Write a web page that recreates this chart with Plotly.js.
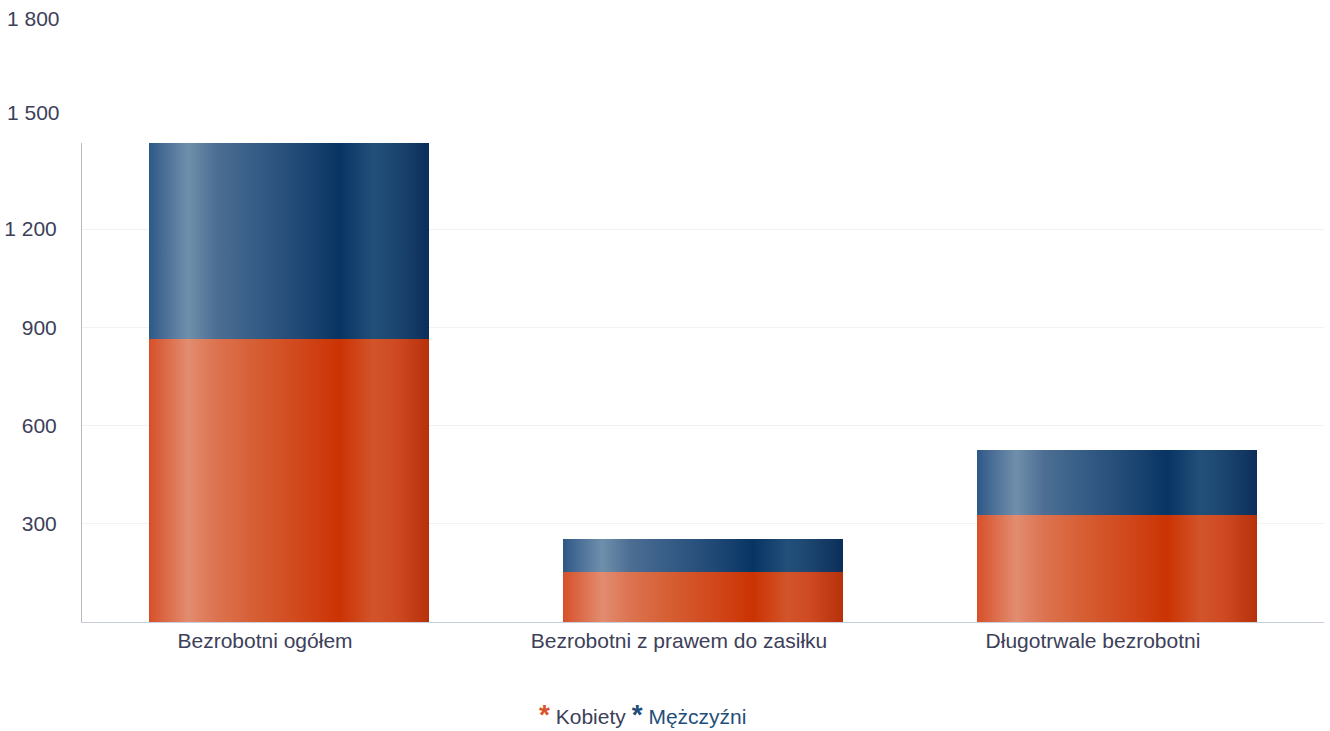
<!DOCTYPE html>
<html>
<head>
<meta charset="utf-8">
<script src="https://cdn.plot.ly/plotly-3.0.1.min.js"></script>
<style>
  html, body { margin: 0; padding: 0; background: #ffffff; }
  #chart { width: 1330px; height: 731px; }
</style>
</head>
<body>
<div id="chart"></div>
<script>
// ---- data ----
const categories = ["Bezrobotni ogółem", "Bezrobotni z prawem do zasiłku", "Długotrwale bezrobotni"];
const kobiety = [864, 153, 327];
const mezczyzni = [599, 100, 198];
const seriesNames = ["Kobiety", "Mężczyźni"];
const tickValues = [300, 600, 900, 1200, 1500, 1800];
const tickLabels = ["300", "600", "900", "1 200", "1 500", "1 800"];
const axisMax = 1463;

// ---- style ----
const orange = "#d9532b";
const blue = "#1f4e7a";
const textColor = "#3d4059";
const font = "Liberation Sans, Arial, sans-serif";
const fs = 21;

const traces = [
  { type: "bar", name: seriesNames[0], x: categories, y: kobiety,
    marker: { color: orange, line: { width: 0 } }, hoverinfo: "y+name" },
  { type: "bar", name: seriesNames[1], x: categories, y: mezczyzni,
    marker: { color: blue, line: { width: 0 } }, hoverinfo: "y+name" }
];

// ticks beyond the plotted range are drawn as labels above the plot
const inRange = tickValues.map(v => v <= axisMax);
const H = 731, mt = 143, mb = 109;
const plotH = H - mt - mb;
const extraAnn = [];
tickValues.forEach((v, i) => {
  if (!inRange[i]) {
    const idx = i - inRange.filter(Boolean).length; // 0 for 1500, 1 for 1800
    const yPix = [112, 18][idx];
    const yPaper = (H - mb - yPix) / plotH;
    extraAnn.push({
      xref: "paper", yref: "paper", x: 0, y: yPaper, xshift: -20,
      xanchor: "right", yanchor: "middle", showarrow: false,
      text: tickLabels[i], font: { family: font, size: fs, color: textColor }
    });
  }
});

const legendText =
  `<span style="color:${orange};font-size:28px;font-weight:bold">*</span> <span style="color:${textColor}">${seriesNames[0]}</span> ` +
  `<span style="color:${blue};font-size:28px;font-weight:bold">*</span> <span style="color:${blue}">${seriesNames[1]}</span>`;

const layout = {
  width: 1330, height: 731,
  margin: { l: 82, r: 6, t: mt, b: mb, pad: 0 },
  paper_bgcolor: "#ffffff", plot_bgcolor: "#ffffff",
  barmode: "stack", bargap: 0.324,
  showlegend: false,
  font: { family: font, size: fs, color: textColor },
  xaxis: {
    type: "category", showgrid: false, showline: true, linecolor: "#c8cfdb", linewidth: 1,
    ticks: "", ticklabelshift: -24, ticklabelstandoff: 0,
    tickfont: { family: font, size: fs, color: textColor }, fixedrange: true
  },
  yaxis: {
    range: [0, axisMax], tickvals: tickValues.filter((v, i) => inRange[i]),
    ticktext: tickLabels.filter((v, i) => inRange[i]),
    showgrid: true, gridcolor: "#f1f2f4", gridwidth: 1,
    showline: true, linecolor: "#bcbcbc", linewidth: 1,
    zeroline: false, ticks: "", ticklabelstandoff: 20,
    tickfont: { family: font, size: fs, color: textColor }, fixedrange: true
  },
  annotations: extraAnn.concat([{
    xref: "paper", yref: "paper", x: 0.5, y: 0, xshift: -61, yshift: -92, xanchor: "center", yanchor: "middle",
    showarrow: false, text: legendText, font: { family: font, size: fs, color: textColor }
  }])
};

Plotly.newPlot("chart", traces, layout, { displayModeBar: false, staticPlot: true }).then(() => {
  const svg = document.querySelector("#chart .main-svg");
  const NS = "http://www.w3.org/2000/svg";
  let defs = svg.querySelector("defs");
  if (!defs) { defs = document.createElementNS(NS, "defs"); svg.insertBefore(defs, svg.firstChild); }
  const grads = {
    gradOrange: [[0, "#d6502a"], [0.06, "#dc6a48"], [0.14, "#e28c70"], [0.24, "#dc7350"], [0.38, "#d65e33"],
                 [0.55, "#d0461a"], [0.68, "#cb3303"], [0.8, "#d2542a"], [0.88, "#cf4a22"], [1, "#b7320a"]],
    gradBlue: [[0, "#2d5986"], [0.06, "#4d7098"], [0.14, "#6f8fab"], [0.24, "#4d6e93"], [0.38, "#355d86"],
               [0.55, "#1f4774"], [0.68, "#073463"], [0.8, "#22507a"], [0.88, "#1c466f"], [1, "#0b2e5a"]]
  };
  Object.keys(grads).forEach(id => {
    const lg = document.createElementNS(NS, "linearGradient");
    lg.setAttribute("id", id);
    lg.setAttribute("x1", "0"); lg.setAttribute("y1", "0");
    lg.setAttribute("x2", "1"); lg.setAttribute("y2", "0");
    grads[id].forEach(([o, c]) => {
      const s = document.createElementNS(NS, "stop");
      s.setAttribute("offset", o); s.setAttribute("stop-color", c);
      lg.appendChild(s);
    });
    defs.appendChild(lg);
  });
  const traceGroups = svg.querySelectorAll(".barlayer .trace");
  traceGroups.forEach((g, i) => {
    const id = i === 0 ? "gradOrange" : "gradBlue";
    g.querySelectorAll(".point path").forEach(p => { p.style.fill = `url(#${id})`; });
  });
});
</script>
</body>
</html>
